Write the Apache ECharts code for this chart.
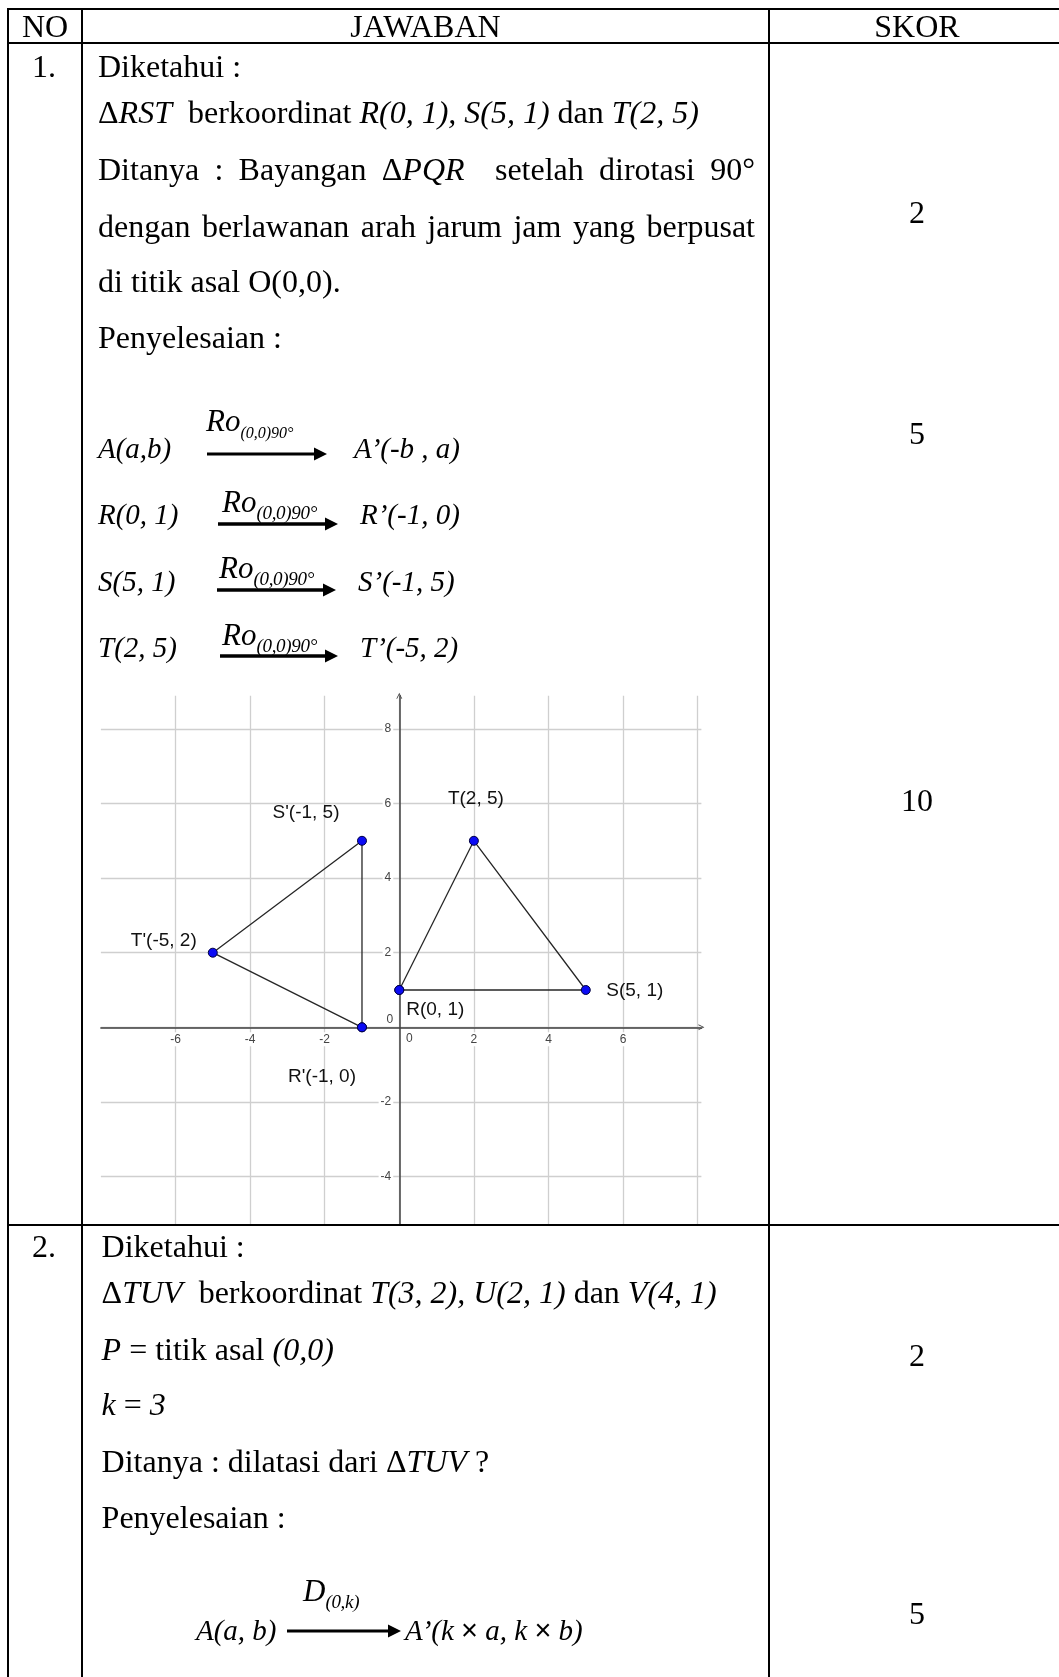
<!DOCTYPE html>
<html>
<head>
<meta charset="utf-8">
<script src="https://cdn.jsdelivr.net/npm/echarts@6/dist/echarts.min.js"></script>
<style>
html, body { margin: 0; padding: 0; background: #fff; }
#page { position: relative; width: 1059px; height: 1677px; overflow: hidden; font-family: 'Liberation Serif', 'Times New Roman', serif; color: #000; }
.t { position: absolute; white-space: nowrap; line-height: 40px; height: 40px; font-size: 32px; }
.c { transform: translateX(-50%); }
.j { white-space: normal; width: 657px; text-align: justify; text-align-last: justify; }
.f { font-size: 29px; font-style: italic; }
.ro { font-size: 31px; }
.sub { font-size: 16px; vertical-align: -7px; }
.sub2 { font-size: 19px; vertical-align: -7px; letter-spacing: -0.3px; }
#clip { position: absolute; left: 84px; top: 684px; width: 683px; height: 540px; overflow: hidden; }
#chart { width: 683px; height: 620px; }
#lines { position: absolute; left: 0; top: 0; }
</style>
</head>
<body>
<div id="page">
  <div id="clip"><div id="chart"></div></div>
  <svg id="lines" width="1059" height="1677"></svg>
</div>
<script>
// titik segitiga asal dan bayangannya (rotasi 90 derajat)
const rstPoints = [[0, 1], [5, 1], [2, 5]]
const rstNames = ['R(0, 1)', 'S(5, 1)', 'T(2, 5)']
const imgPoints = [[-1, 0], [-1, 5], [-5, 2]]
const imgNames = ["R'(-1, 0)", "S'(-1, 5)", "T'(-5, 2)"]
const xTickLabels = [-6, -4, -2, 0, 2, 4, 6]
const yTickLabels = [-4, -2, 0, 2, 4, 6, 8]

// posisi label titik (px dari titik)
const labelOffset = {
  'R(0, 1)': [36, 20],
  'S(5, 1)': [49, 1],
  'T(2, 5)': [2, -42],
  "R'(-1, 0)": [-40, 49],
  "S'(-1, 5)": [-56, -28],
  "T'(-5, 2)": [-49, -12]
}

// teks dokumen: [x, tengah y, html, kelas]
const texts = [
  [45, 26, 'NO', 'c'],
  [425.5, 26, 'JAWABAN', 'c'],
  [917, 26, 'SKOR', 'c'],
  [32, 66, '1.'],
  [98, 66, 'Diketahui :'],
  [98, 112, '&Delta;<i>RST</i>&nbsp; berkoordinat <i>R(0, 1), S(5, 1)</i> dan <i>T(2, 5)</i>'],
  [98, 169, 'Ditanya : Bayangan &Delta;<i>PQR</i>&nbsp; setelah dirotasi 90°', 'j'],
  [98, 226, 'dengan berlawanan arah jarum jam yang berpusat', 'j'],
  [98, 281, 'di titik asal O(0,0).'],
  [98, 337, 'Penyelesaian :'],
  [98, 448, 'A(a,b)', 'f'],
  [206, 421, 'Ro<span class="sub">(0,0)90°</span>', 'f ro'],
  [354, 448, 'A’(-b , a)', 'f'],
  [98, 514, 'R(0, 1)', 'f'],
  [222, 502, 'Ro<span class="sub2">(0,0)90°</span>', 'f ro'],
  [360, 514, 'R’(-1, 0)', 'f'],
  [98, 581, 'S(5, 1)', 'f'],
  [219, 568, 'Ro<span class="sub2">(0,0)90°</span>', 'f ro'],
  [358, 581, 'S’(-1, 5)', 'f'],
  [98, 647, 'T(2, 5)', 'f'],
  [222, 635, 'Ro<span class="sub2">(0,0)90°</span>', 'f ro'],
  [360, 647, 'T’(-5, 2)', 'f'],
  [917, 212, '2', 'c'],
  [917, 433, '5', 'c'],
  [917, 800, '10', 'c'],
  [32, 1246, '2.'],
  [101.6, 1246, 'Diketahui :'],
  [101.6, 1292, '&Delta;<i>TUV</i>&nbsp; berkoordinat <i>T(3, 2), U(2, 1)</i> dan <i>V(4, 1)</i>'],
  [101.6, 1349, '<i>P</i> = titik asal <i>(0,0)</i>'],
  [101.6, 1404, '<i>k</i> = <i>3</i>'],
  [101.6, 1461, 'Ditanya : dilatasi dari &Delta;<i>TUV</i> ?'],
  [101.6, 1517, 'Penyelesaian :'],
  [303, 1591, 'D<span class="sub2">(0,k)</span>', 'f ro'],
  [196, 1630, 'A(a, b)', 'f'],
  [405, 1630, 'A’(k <span style="font-style:normal;font-family:Liberation Sans">×</span> a, k <span style="font-style:normal;font-family:Liberation Sans">×</span> b)', 'f'],
  [917, 1355, '2', 'c'],
  [917, 1613, '5', 'c']
]

const page = document.getElementById('page')
texts.forEach(function (row) {
  const el = document.createElement('div')
  el.className = 't' + (row[3] ? ' ' + row[3] : '')
  el.style.left = row[0] + 'px'
  el.style.top = (row[1] - 20) + 'px'
  el.innerHTML = row[2]
  page.appendChild(el)
})

// garis tabel dan panah
let svg = ''
const hLines = [9, 43, 1225]
const vLines = [8, 82, 769]
hLines.forEach(function (y) { svg += '<line x1="7" y1="' + y + '" x2="1059" y2="' + y + '" stroke="#000" stroke-width="2"/>' })
vLines.forEach(function (x) { svg += '<line x1="' + x + '" y1="8" x2="' + x + '" y2="1677" stroke="#000" stroke-width="2"/>' })
const arrows = [[207, 327, 454, 3], [218, 338, 524, 3.5], [217, 336, 590, 3.5], [220, 338, 656, 3.5], [287, 401, 1631, 3]]
arrows.forEach(function (a) {
  svg += '<line x1="' + a[0] + '" y1="' + a[2] + '" x2="' + (a[1] - 10) + '" y2="' + a[2] + '" stroke="#000" stroke-width="' + a[3] + '"/>'
  svg += '<polygon points="' + (a[1] - 13) + ',' + (a[2] - 6.5) + ' ' + a[1] + ',' + a[2] + ' ' + (a[1] - 13) + ',' + (a[2] + 6.5) + '" fill="#000"/>'
})
document.getElementById('lines').innerHTML = svg

const chart = echarts.init(document.getElementById('chart'))

function triangle (pts, names) {
  const data = pts.map(function (p, i) {
    return { value: p, label: { show: true, formatter: names[i], offset: labelOffset[names[i]] } }
  })
  data.push({ value: pts[0], label: { show: false } })
  return {
    type: 'line',
    data: data,
    symbol: 'circle',
    symbolSize: 9,
    showSymbol: true,
    itemStyle: { color: '#0b0bf5', borderColor: '#000040', borderWidth: 1 },
    lineStyle: { color: '#262626', width: 1.3 },
    label: { position: 'inside', align: 'center', verticalAlign: 'middle', fontFamily: 'Liberation Sans', fontSize: 19, color: '#111' },
    emphasis: { disabled: true },
    z: 3
  }
}

// rentang sumbu dan ukuran grid (px)
const xMin = -8
const xMax = 8.1
const yMin = -6
const yMax = 8.89
const gridW = 600.5
const gridH = 555.4
// geser sumbu ke titik nol
const yAxisShift = (0 - xMin) / (xMax - xMin) * gridW
const xAxisShift = (0 - yMin) / (yMax - yMin) * gridH

const arrowPath = 'path://M0,10 L5,0 L10,10 L8.6,10 L5,2.8 L1.4,10 Z'
const labelRich = {
  w: { backgroundColor: '#fff', padding: [1, 2], fontSize: 12, color: '#444', fontFamily: 'Liberation Sans' },
  zx: { padding: [0, 0, 0, 20], fontSize: 12, color: '#444', fontFamily: 'Liberation Sans' },
  zy: { padding: [0, 0, 16, 0], fontSize: 12, color: '#444', fontFamily: 'Liberation Sans' }
}

chart.setOption({
  animation: false,
  grid: { left: 16.9, top: 11.7, width: gridW, height: gridH, outerBoundsMode: 'none', containLabel: false },
  xAxis: {
    type: 'value',
    min: xMin,
    max: xMax,
    interval: 2,
    position: 'bottom',
    offset: -xAxisShift,
    axisLine: { onZero: false, symbol: ['none', arrowPath], symbolSize: [8, 6], lineStyle: { color: '#404040', width: 1.5 } },
    axisTick: { show: false },
    splitLine: { show: true, showMinLine: false, showMaxLine: false, lineStyle: { color: '#cfcfcf', width: 1.3 } },
    axisLabel: {
      margin: 5,
      hideOverlap: false,
      formatter: function (v) {
        if (xTickLabels.indexOf(v) < 0) return ''
        return v === 0 ? '{zx|0}' : '{w|' + v + '}'
      },
      rich: labelRich
    }
  },
  yAxis: {
    type: 'value',
    min: yMin,
    max: yMax,
    interval: 2,
    position: 'left',
    offset: -yAxisShift,
    axisLine: { onZero: false, symbol: ['none', arrowPath], symbolSize: [8, 6], lineStyle: { color: '#404040', width: 1.5 } },
    axisTick: { show: false },
    splitLine: { show: true, showMinLine: false, showMaxLine: false, lineStyle: { color: '#cfcfcf', width: 1.3 } },
    axisLabel: {
      margin: 6,
      hideOverlap: false,
      formatter: function (v) {
        if (yTickLabels.indexOf(v) < 0) return ''
        return v === 0 ? '{zy|0}' : '{w|' + v + '}'
      },
      rich: labelRich
    }
  },
  series: [triangle(rstPoints, rstNames), triangle(imgPoints, imgNames)]
})
</script>
</body>
</html>
